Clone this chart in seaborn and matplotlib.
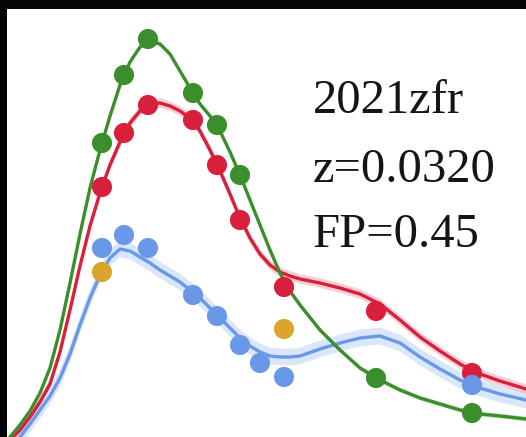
import numpy as np
import pandas as pd
import matplotlib
matplotlib.use("Agg")
import matplotlib.pyplot as plt
import seaborn as sns

# ---- observed photometry (days, flux) ----
obs_days_green = [9.2, 11.4, 13.8, 18.3, 20.7, 23.0, 36.6, 46.2]
obs_flux_green = [73.5, 90.5, 99.5, 86.0, 78.0, 65.5, 14.75, 6.0]

obs_days_red = [9.2, 11.4, 13.8, 18.3, 20.7, 23.0, 27.4, 36.6, 46.2]
obs_flux_red = [62.5, 76.0, 83.0, 79.25, 68.0, 54.25, 37.5, 31.5, 16.0]

obs_days_blue = [9.2, 11.4, 13.8, 18.3, 20.7, 23.0, 25.0, 27.4, 46.2]
obs_flux_blue = [47.25, 50.5, 47.25, 35.5, 30.25, 23.0, 18.5, 15.0, 13.0]

obs_days_gold = [9.2, 27.4]
obs_flux_gold = [41.25, 27.0]

# ---- model light curves sampled on a common time grid ----
model_days = [-1, 0, 1, 2, 3, 4, 5, 6, 7, 8, 9, 10, 11, 12, 13, 14, 15, 16,
              17, 18, 19, 20, 21, 22, 23, 24, 25, 26, 27, 28, 29,
              31, 33, 35, 37, 39, 41, 43, 45, 47, 49, 51.6]
model_green = [-3, 0, 3, 6.5, 11, 17.25, 26.75, 38.5, 50.75, 62.25, 71.75,
               80.25, 88, 93.75, 97.5, 99, 98.25, 95.75, 91.5, 87.25, 83.25,
               80.25, 76.5, 71.25, 65.5, 59.25, 53, 46.75, 41, 36.5, 33,
               26.75, 21.75, 17.25, 14.25, 11.75, 9.75, 8.25, 6.75, 5.75,
               5.25, 4.5]
model_red = [-2.75, -0.75, 1.75, 5, 8.75, 13.25, 21.25, 31.75, 42.75, 52.75,
             61, 68, 73.75, 78.5, 81.5, 83.25, 83.5, 82.75, 81.5, 79.75, 76.5,
             71.75, 66.5, 60.75, 54.75, 49.75, 45.75, 43, 41.25, 40.25, 39.5,
             38.5, 37.25, 35.75, 33.25, 29.25, 25, 21.5, 18.25, 15.75, 14, 12]
model_blue = [-4.5, -2.25, 0, 3.25, 6.75, 10.25, 14.75, 20.75, 28, 34.75,
              40.5, 44.75, 47, 46.5, 45, 43.5, 41.75, 40.25, 38.75, 36.75,
              34.75, 32.25, 29.75, 27.25, 24.75, 22.75, 21.25, 20.25, 20, 20,
              20.25, 22, 23.5, 24.75, 25.25, 23.5, 20, 17, 14.25, 12.25,
              10.75, 9.25]

# half-width of the model uncertainty band for each filter
band_halfwidth = {"g": 0.6, "r": 1.2, "b": 2.1}

label_lines = ["2021zfr", "z=0.0320", "FP=0.45"]

colors = {"g": "#3b8e2c", "r": "#d81f3c", "b": "#6a98e8", "o": "#daa52a"}
band_colors = {"g": "#9fd39a", "r": "#f2a6b4", "b": "#bcd2f6"}

sns.set_theme(style="white")
plt.rcParams["font.family"] = ["Liberation Serif", "DejaVu Serif"]

fig = plt.figure(figsize=(5.26, 4.37), dpi=100, facecolor="#050508")
ax = fig.add_axes([7 / 526, 0, 519 / 526, 428 / 437])
ax.set_facecolor("white")

models = pd.DataFrame({
    "day": model_days * 3,
    "flux": model_green + model_red + model_blue,
    "band": ["g"] * len(model_days) + ["r"] * len(model_days) + ["b"] * len(model_days),
})

for key, curve in (("b", model_blue), ("r", model_red), ("g", model_green)):
    c = np.asarray(curve, dtype=float)
    hw = band_halfwidth[key]
    ax.fill_between(model_days, c - hw, c + hw, color=band_colors[key],
                    alpha=0.55, linewidth=0, zorder=1)

sns.lineplot(data=models, x="day", y="flux", hue="band",
             hue_order=["b", "r", "g"],
             palette={k: colors[k] for k in ("g", "r", "b")},
             linewidth=2.4, legend=False, errorbar=None, sort=False,
             ax=ax, zorder=2)

points = pd.DataFrame({
    "day": obs_days_green + obs_days_red + obs_days_blue + obs_days_gold,
    "flux": obs_flux_green + obs_flux_red + obs_flux_blue + obs_flux_gold,
    "band": (["g"] * len(obs_days_green) + ["r"] * len(obs_days_red)
             + ["b"] * len(obs_days_blue) + ["o"] * len(obs_days_gold)),
})
sns.scatterplot(data=points, x="day", y="flux", hue="band",
                palette=colors, s=210, linewidth=0, legend=False,
                ax=ax, zorder=3)

ax.set_xlim(-0.3, 51.6)
ax.set_ylim(0, 107)
ax.set_xticks([])
ax.set_yticks([])
ax.set_xlabel("")
ax.set_ylabel("")
for sp in ax.spines.values():
    sp.set_visible(False)

baselines = [(437 - 113) / 437, (437 - 182) / 437, (437 - 247) / 437]
for txt, yb in zip(label_lines, baselines):
    fig.text(313 / 526, yb, txt, fontsize=35, color="#151515",
             ha="left", va="baseline")

fig.savefig("out.png", dpi=100, facecolor=fig.get_facecolor())
